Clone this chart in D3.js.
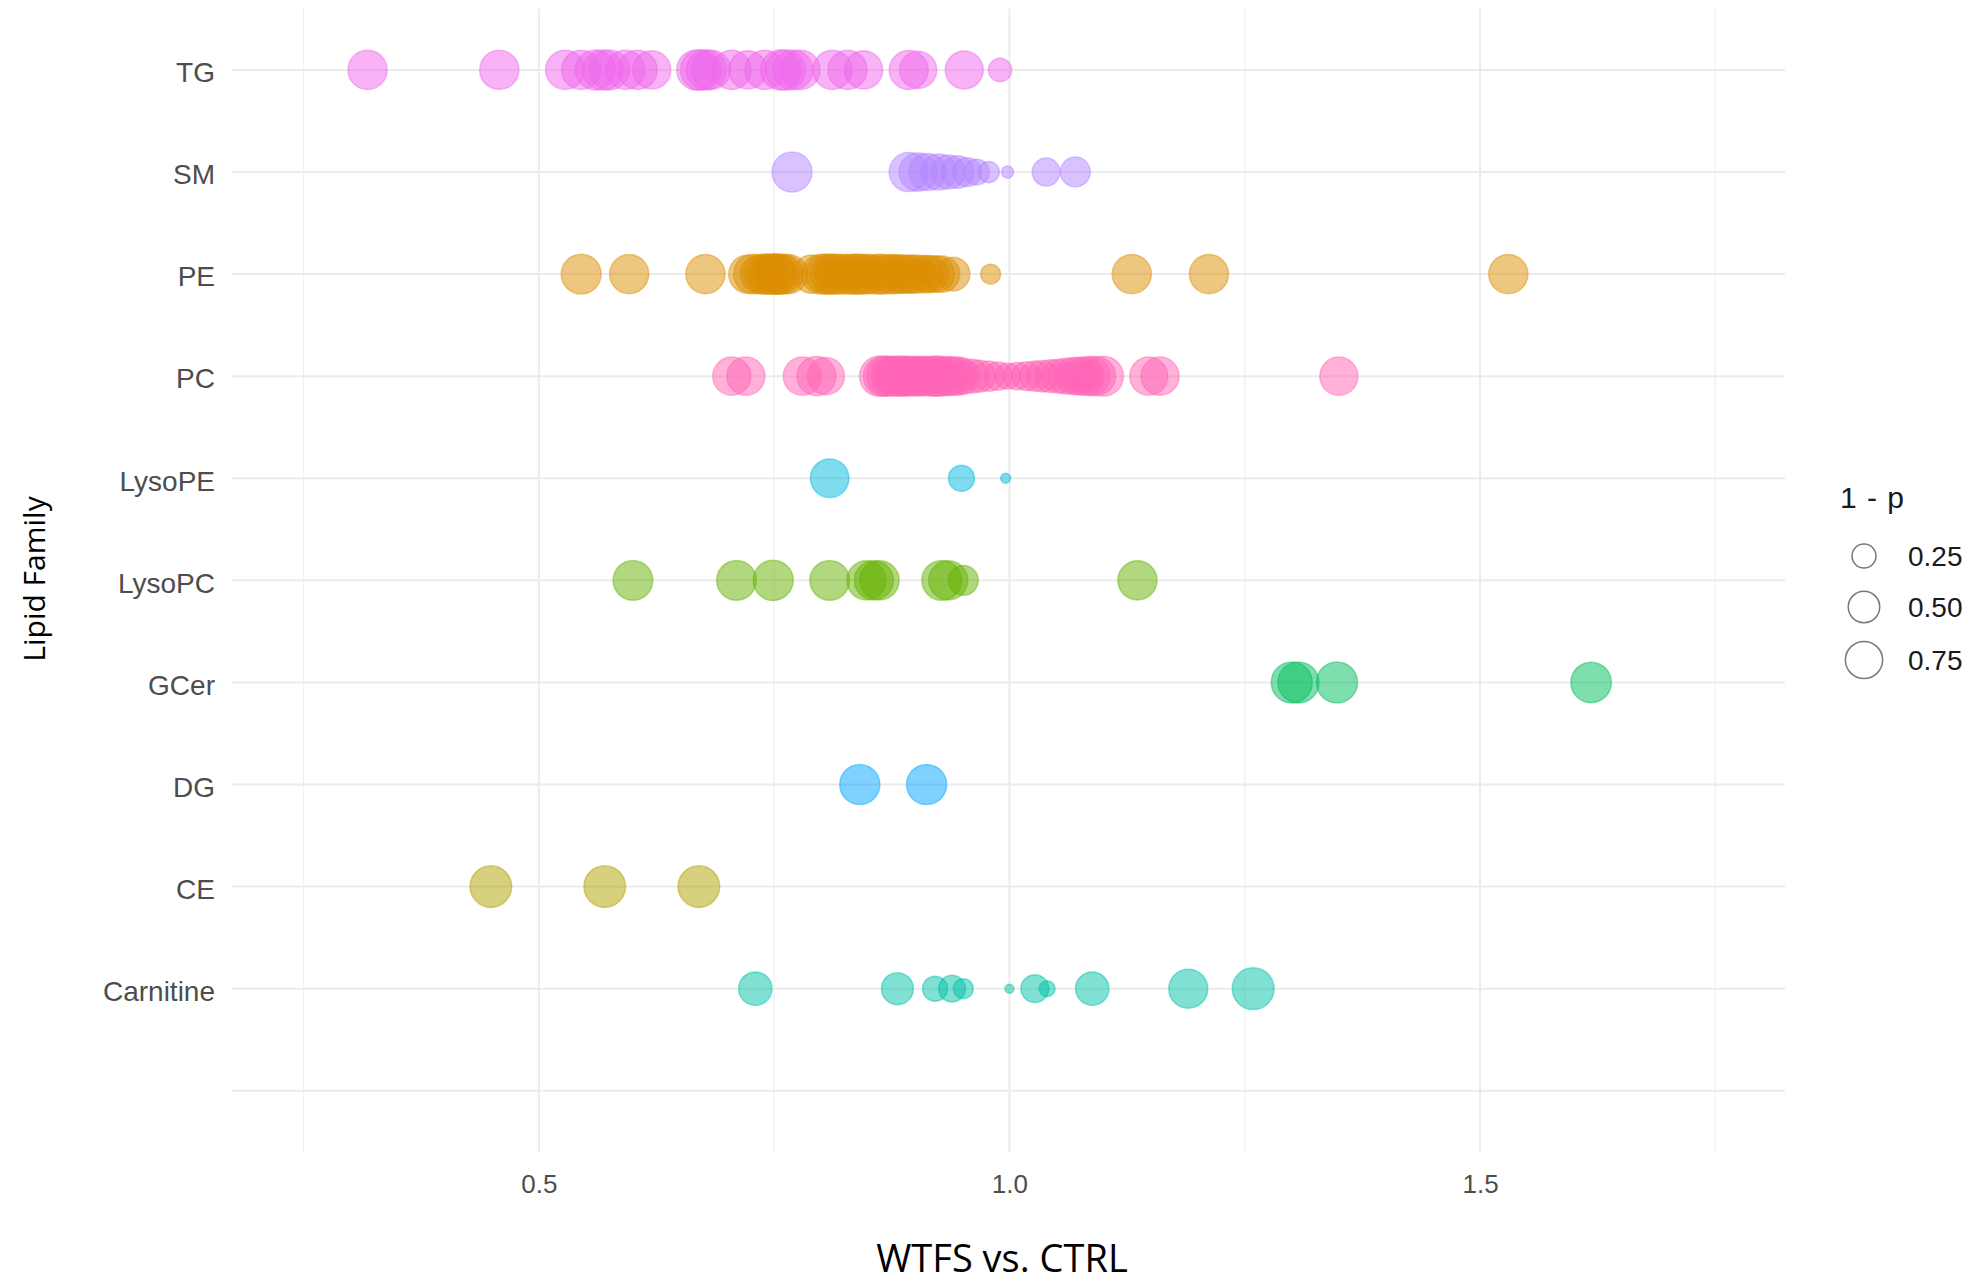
<!DOCTYPE html>
<html>
<head>
<meta charset="utf-8">
<script src="https://cdnjs.cloudflare.com/ajax/libs/d3/7.8.5/d3.min.js"></script>
<style>
  body { margin: 0; background: #fff; }
</style>
</head>
<body>
<script>
// lipid families, top to bottom (last one is the empty level ggplot kept)
var families = ["TG", "SM", "PE", "PC", "LysoPE", "LysoPC", "GCer", "DG", "CE", "Carnitine", ""];
var familyColors = ["#EF67EB", "#B385FF", "#DB8E00", "#FF63B6", "#00BADE",
                    "#64B200", "#00BD5C", "#00A6FF", "#AEA200", "#00C1A7", "#999"];

// fold change (WTFS vs. CTRL) and 1 - p for each species
var tgFc = [0.318, 0.458, 0.528, 0.545, 0.560, 0.568, 0.575, 0.592, 0.605, 0.620, 0.668, 0.672, 0.678, 0.683,
            0.705, 0.722, 0.740, 0.757, 0.762, 0.770, 0.778, 0.812, 0.828, 0.845, 0.893, 0.903, 0.952, 0.990];
var tgP  = [0.85, 0.85, 0.85, 0.85, 0.89, 0.90, 0.89, 0.85, 0.85, 0.80, 0.92, 0.92, 0.90, 0.85,
            0.85, 0.80, 0.85, 0.90, 0.90, 0.88, 0.85, 0.85, 0.85, 0.80, 0.84, 0.75, 0.79, 0.23];

var smFc = [0.769, 0.893, 0.903, 0.913, 0.925, 0.935, 0.945, 0.955, 0.965, 0.978, 0.998, 1.039, 1.070];
var smP  = [0.89, 0.85, 0.80, 0.75, 0.70, 0.60, 0.55, 0.40, 0.30, 0.18, 0.03, 0.37, 0.44];

var peFc = [0.545, 0.596, 0.677, 0.722, 0.728, 0.735, 0.740, 0.745, 0.750, 0.752, 0.756, 0.760, 0.765,
            0.790, 0.800, 0.805, 0.810, 0.815, 0.822, 0.828, 0.835, 0.840, 0.846, 0.852, 0.860, 0.865,
            0.872, 0.878, 0.884, 0.890, 0.896, 0.902, 0.910, 0.915, 0.922, 0.928, 0.940,
            0.980, 1.130, 1.212, 1.530];
var peP  = [0.89, 0.85, 0.85, 0.80, 0.88, 0.85, 0.90, 0.90, 0.92, 0.90, 0.90, 0.88, 0.85,
            0.80, 0.88, 0.90, 0.90, 0.90, 0.88, 0.88, 0.90, 0.90, 0.88, 0.85, 0.88, 0.88,
            0.85, 0.85, 0.82, 0.80, 0.80, 0.80, 0.75, 0.75, 0.72, 0.70, 0.60,
            0.15, 0.85, 0.85, 0.85];

var pcFc = [0.705, 0.720, 0.780, 0.795, 0.805, 0.862, 0.866, 0.870, 0.874, 0.878, 0.883, 0.888, 0.892, 0.895,
            0.900, 0.905, 0.910, 0.915, 0.920, 0.925, 0.930, 0.935, 0.940, 0.945, 0.950, 0.960, 0.968,
            0.978, 0.988, 0.998, 1.008, 1.018, 1.027, 1.035, 1.044, 1.052, 1.060, 1.068, 1.074, 1.080,
            1.086, 1.092, 1.100, 1.148, 1.160, 1.350];
var pcP  = [0.80, 0.80, 0.80, 0.85, 0.75, 0.90, 0.88, 0.90, 0.85, 0.88, 0.90, 0.90, 0.85, 0.85,
            0.88, 0.88, 0.85, 0.85, 0.90, 0.90, 0.82, 0.85, 0.80, 0.80, 0.70, 0.60, 0.52,
            0.45, 0.38, 0.30, 0.35, 0.40, 0.45, 0.50, 0.55, 0.60, 0.68, 0.75, 0.78, 0.80,
            0.85, 0.85, 0.88, 0.80, 0.80, 0.80];

var lysoPeFc = [0.809, 0.949, 0.996];
var lysoPeP  = [0.82, 0.31, 0.012];

var lysoPcFc = [0.600, 0.710, 0.749, 0.809, 0.848, 0.856, 0.862, 0.928, 0.935, 0.951, 1.136];
var lysoPcP  = [0.88, 0.88, 0.90, 0.88, 0.85, 0.85, 0.85, 0.88, 0.85, 0.44, 0.85];

var gcerFc = [1.300, 1.307, 1.348, 1.618];
var gcerP  = [0.95, 0.95, 0.95, 0.92];

var dgFc = [0.841, 0.912];
var dgP  = [0.90, 0.90];

var ceFc = [0.449, 0.570, 0.670];
var ceP  = [0.98, 0.98, 0.98];

var carnFc = [0.730, 0.881, 0.921, 0.939, 0.951, 1.000, 1.027, 1.040, 1.088, 1.190, 1.259];
var carnP  = [0.58, 0.52, 0.28, 0.33, 0.15, 0.007, 0.37, 0.077, 0.58, 0.84, 0.99];

var xTicks = [0.5, 1.0, 1.5];
var xMinor = [0.25, 0.75, 1.25, 1.75];
var legendBreaks = [0.25, 0.50, 0.75];

// build one table of points from the arrays
var series = [
  ["TG", tgFc, tgP], ["SM", smFc, smP], ["PE", peFc, peP], ["PC", pcFc, pcP],
  ["LysoPE", lysoPeFc, lysoPeP], ["LysoPC", lysoPcFc, lysoPcP], ["GCer", gcerFc, gcerP],
  ["DG", dgFc, dgP], ["CE", ceFc, ceP], ["Carnitine", carnFc, carnP]
];
var points = [];
series.forEach(function(s) {
  s[1].forEach(function(fc, i) {
    points.push({family: s[0], fc: fc, p: s[2][i]});
  });
});

// panel
var panel = {left: 232, right: 1785, top: 8.7, bottom: 1152};

var x = d3.scaleLinear().domain([0.174, 1.824]).range([panel.left, panel.right]);
var y = d3.scalePoint().domain(families).range([panel.top, panel.bottom]).padding(0.6);
var color = d3.scaleOrdinal().domain(families).range(familyColors);
var size = d3.scaleSqrt().domain([0, 1]).range([3, 21]);

var svg = d3.select("body")
    .append("svg")
    .attr("width", 1985)
    .attr("height", 1286);

svg.append("rect").attr("width", 1985).attr("height", 1286).attr("fill", "#fff");

// grid lines
svg.append("g").selectAll("line")
    .data(xMinor)
    .enter().append("line")
    .attr("x1", function(d) { return x(d); })
    .attr("x2", function(d) { return x(d); })
    .attr("y1", panel.top)
    .attr("y2", panel.bottom)
    .attr("stroke", "#F0F0F0")
    .attr("stroke-width", 1.3);

svg.append("g").selectAll("line")
    .data(xTicks)
    .enter().append("line")
    .attr("x1", function(d) { return x(d); })
    .attr("x2", function(d) { return x(d); })
    .attr("y1", panel.top)
    .attr("y2", panel.bottom)
    .attr("stroke", "#EBEBEB")
    .attr("stroke-width", 2);

svg.append("g").selectAll("line")
    .data(families)
    .enter().append("line")
    .attr("x1", panel.left)
    .attr("x2", panel.right)
    .attr("y1", function(d) { return y(d); })
    .attr("y2", function(d) { return y(d); })
    .attr("stroke", "#EBEBEB")
    .attr("stroke-width", 2);

// points
svg.append("g").selectAll("circle")
    .data(points)
    .enter().append("circle")
    .attr("cx", function(d) { return x(d.fc); })
    .attr("cy", function(d) { return y(d.family); })
    .attr("r", function(d) { return size(d.p); })
    .attr("fill", function(d) { return color(d.family); })
    .attr("fill-opacity", 0.5)
    .attr("stroke", function(d) { return color(d.family); })
    .attr("stroke-opacity", 0.45)
    .attr("stroke-width", 1.5);

// axes (ggplot minimal style: labels only)
var xAxis = svg.append("g")
    .attr("transform", "translate(0," + (panel.bottom + 14) + ")")
    .call(d3.axisBottom(x).tickValues(xTicks).tickFormat(d3.format(".1f")).tickSize(0).tickPadding(9));
xAxis.select(".domain").remove();
xAxis.selectAll("text")
    .style("font-size", "26px")
    .style("font-family", "Liberation Sans, Arial, sans-serif")
    .attr("fill", "#4D4D4D");

var yAxis = svg.append("g")
    .attr("transform", "translate(" + (panel.left - 17) + ",0)")
    .call(d3.axisLeft(y).tickSize(0).tickPadding(0));
yAxis.select(".domain").remove();
yAxis.selectAll("text")
    .attr("dy", "0.42em")
    .style("font-size", "28px")
    .style("font-family", "Liberation Sans, Arial, sans-serif")
    .attr("fill", "#4D4D4D");

// axis titles
svg.append("text")
    .attr("x", 1002)
    .attr("y", 1272)
    .attr("text-anchor", "middle")
    .style("font-family", "Open Sans, sans-serif")
    .style("font-size", "38px")
    .attr("fill", "#000")
    .text("WTFS vs. CTRL");

svg.append("text")
    .attr("transform", "translate(45,579) rotate(-90)")
    .attr("text-anchor", "middle")
    .style("font-family", "Open Sans, sans-serif")
    .style("font-size", "30px")
    .attr("fill", "#000")
    .text("Lipid Family");

// size legend
var legend = svg.append("g").attr("transform", "translate(1840,0)");
legend.append("text")
    .attr("x", 0)
    .attr("y", 508)
    .style("font-family", "Liberation Sans, Arial, sans-serif")
    .style("font-size", "30px")
    .style("letter-spacing", "1px")
    .attr("fill", "#1a1a1a")
    .text("1 - p");

var legendY = [556, 607, 660];
legend.selectAll("circle")
    .data(legendBreaks)
    .enter().append("circle")
    .attr("cx", 24)
    .attr("cy", function(d, i) { return legendY[i]; })
    .attr("r", function(d) { return size(d); })
    .attr("fill", "none")
    .attr("stroke", "#777")
    .attr("stroke-width", 1.5);

legend.selectAll(".lab")
    .data(legendBreaks)
    .enter().append("text")
    .attr("class", "lab")
    .attr("x", 68)
    .attr("y", function(d, i) { return legendY[i]; })
    .attr("dy", "0.36em")
    .style("font-family", "Liberation Sans, Arial, sans-serif")
    .style("font-size", "28px")
    .attr("fill", "#1a1a1a")
    .text(function(d) { return d3.format(".2f")(d); });
</script>
</body>
</html>
